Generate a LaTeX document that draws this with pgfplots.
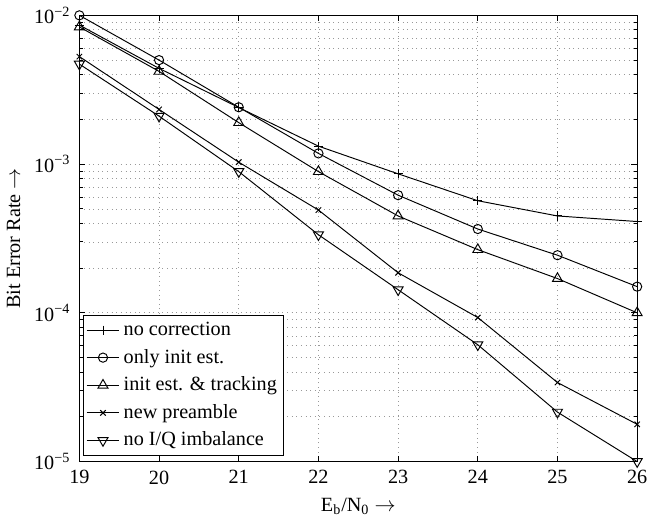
\documentclass[border=0pt]{standalone}
\usepackage{fontspec}
\setmainfont{Liberation Serif}
\usepackage{pgfplots}
\pgfplotsset{compat=1.18}
\begin{document}
\fontsize{10.5}{12.5}\selectfont
\begin{tikzpicture}
\begin{axis}[
  scale only axis,
  width=290pt, height=232pt,
  ymode=log,
  xmin=19, xmax=26,
  ymin=1e-5, ymax=1e-2,
  xtick={19,20,...,26},
  ytick={1e-5,1e-4,1e-3,1e-2},
  yticklabels={10\textsuperscript{−5},10\textsuperscript{−4},10\textsuperscript{−3},10\textsuperscript{−2}},
  /pgf/number format/assume math mode=true,
  tick align=inside,
  tick pos=both,
  major tick length=3pt,
  minor tick length=1.8pt,
  grid=both,
  major grid style={dotted, gray!80, line width=0.35pt},
  minor grid style={dotted, gray!80, line width=0.35pt},
  axis line style={line width=0.6pt},
  every tick/.style={black, line width=0.4pt},
  xticklabel style={yshift=-1pt},
  yticklabel style={xshift=-1pt},
  xlabel={E\textsubscript{b}/N\textsubscript{0} $\rightarrow$},
  ylabel={Bit Error Rate $\rightarrow$},
  xlabel style={yshift=0pt},
  ylabel style={yshift=0pt},
  legend style={at={(0.006,0.012)}, anchor=south west, draw=black, line width=0.5pt,
    font=\fontsize{10.5}{12.5}\selectfont, row sep=1.5pt, inner sep=1.5pt, fill=white},
  legend cell align=left,
  every axis plot/.append style={black, line width=0.5pt, mark size=2.4pt},
]
\addplot[mark=+] coordinates {(19,8.6e-3) (20,4.4e-3) (21,2.4e-3) (22,1.32e-3) (23,8.6e-4) (24,5.67e-4) (25,4.48e-4) (26,4.11e-4)};
\addplot[mark=o] coordinates {(19,1.0e-2) (20,5.0e-3) (21,2.41e-3) (22,1.18e-3) (23,6.18e-4) (24,3.66e-4) (25,2.44e-4) (26,1.50e-4)};
\addplot[mark=triangle, mark size=3pt] coordinates {(19,8.36e-3) (20,4.2e-3) (21,1.9e-3) (22,8.9e-4) (23,4.48e-4) (24,2.66e-4) (25,1.70e-4) (26,1.0e-4)};
\addplot[mark=x, mark size=2pt] coordinates {(19,5.28e-3) (20,2.33e-3) (21,1.03e-3) (22,4.91e-4) (23,1.86e-4) (24,9.3e-5) (25,3.4e-5) (26,1.78e-5)};
\addplot[mark=triangle, mark size=3pt, mark options={rotate=180}] coordinates {(19,4.7e-3) (20,2.1e-3) (21,8.9e-4) (22,3.35e-4) (23,1.43e-4) (24,6.1e-5) (25,2.15e-5) (26,1.0e-5)};
\legend{no correction, only init est., init est. \& tracking, new preamble, no I/Q imbalance}
\end{axis}
\end{tikzpicture}
\end{document}
